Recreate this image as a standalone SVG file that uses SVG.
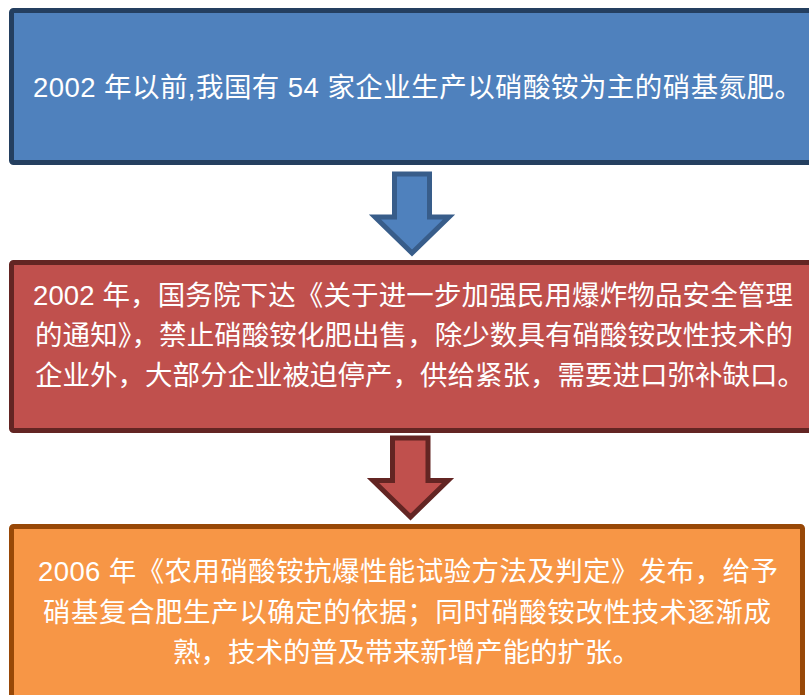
<svg xmlns="http://www.w3.org/2000/svg" width="809" height="695" viewBox="0 0 809 695">
<style>
  .txt { font-family: "Liberation Sans", "Noto Sans CJK SC", sans-serif; font-size: 27.5px; fill: #ffffff; }
  .box { stroke-width: 5; stroke-linejoin: round; }
  .b1 { fill: #4F81BD; stroke: #243F60; }
  .b2 { fill: #C0504D; stroke: #632523; }
  .b3 { fill: #F79646; stroke: #984807; }
  .arr { stroke-width: 5; stroke-linejoin: miter; }
  .a1 { fill: #4F81BD; stroke: #385D8A; }
  .a2 { fill: #C0504D; stroke: #632523; }
</style>
<rect width="809" height="695" fill="#ffffff"/>
<g id="node1">
  <rect class="box b1" x="11.5" y="10.5" width="820" height="152" rx="2"/>
  <text class="txt" x="33" y="97" textLength="769" lengthAdjust="spacing">2002 年以前,我国有 54 家企业生产以硝酸铵为主的硝基氮肥。</text>
</g>
<g id="node2">
  <rect class="box b2" x="11.5" y="262.5" width="820" height="168" rx="2"/>
  <text class="txt" x="33" y="305" textLength="760" lengthAdjust="spacing">2002 年，国务院下达《关于进一步加强民用爆炸物品安全管理</text>
  <text class="txt" x="35" y="345" textLength="758" lengthAdjust="spacing">的通知》，禁止硝酸铵化肥出售，除少数具有硝酸铵改性技术的</text>
  <text class="txt" x="35" y="385" textLength="770" lengthAdjust="spacing">企业外，大部分企业被迫停产，供给紧张，需要进口弥补缺口。</text>
</g>
<g id="node3">
  <rect class="box b3" x="11.5" y="526.5" width="791" height="200" rx="2"/>
  <text class="txt" x="38" y="581" textLength="740" lengthAdjust="spacing">2006 年《农用硝酸铵抗爆性能试验方法及判定》发布，给予</text>
  <text class="txt" x="43" y="622" textLength="728" lengthAdjust="spacing">硝基复合肥生产以确定的依据；同时硝酸铵改性技术逐渐成</text>
  <text class="txt" x="173" y="662" textLength="467" lengthAdjust="spacing">熟，技术的普及带来新增产能的扩张。</text>
</g>
<g id="connectors">
  <polygon class="arr a1" points="394.5,174 429.5,174 429.5,217 449,217 412,253 375,217 394.5,217"/>
  <polygon class="arr a2" points="392.5,438 428,438 428,480.5 448,480.5 410.5,517 373,480.5 392.5,480.5"/>
</g>
</svg>
